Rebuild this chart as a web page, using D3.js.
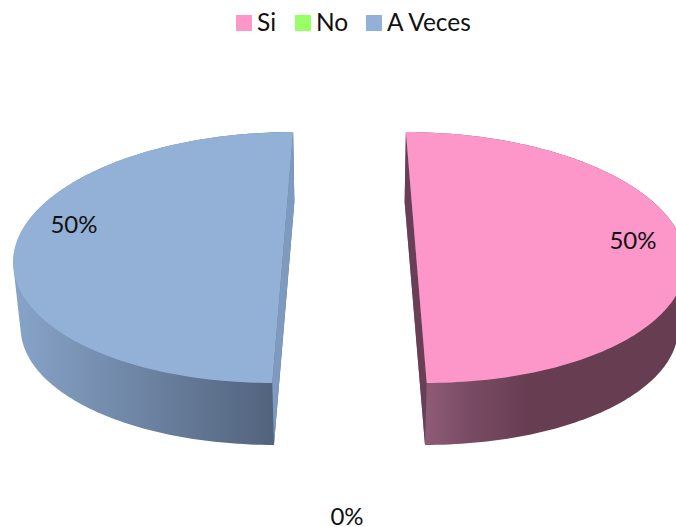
<!DOCTYPE html>
<html>
<head>
<meta charset="utf-8">
<script src="https://cdn.jsdelivr.net/npm/d3@7"></script>
<style>
  html, body { margin: 0; padding: 0; background: #fff; overflow: hidden; }
  text { font-family: Lato, "Open Sans", sans-serif; fill: #111; }
</style>
</head>
<body>
<div class="board"></div>
<script>
// data
var categories = ["Si", "No", "A Veces"];
var values = [50, 0, 50];
var labels = ["50%", "0%", "50%"];
var colors = ["#fd96c9", "#99ff66", "#93b0d6"];
var wallColors = ["#693f56", "#6d9950", "#7f9abf"];

var width = 676, height = 527;

// fake 3d: unit circle pushed through a simple perspective
var view = { cx: 349.5, cy: 237.9, rx: 266, ry: 122.4, k: 0.156, explode: 0.245, depthScale: 0.978 };

var svg = d3.select(".board").append("svg")
  .attr("width", width)
  .attr("height", height)
  .style("display", "block");

var defs = svg.append("defs");

function addGradient(id, x1, x2, stops) {
  var g = defs.append("linearGradient")
    .attr("id", id)
    .attr("gradientUnits", "userSpaceOnUse")
    .attr("x1", x1).attr("x2", x2)
    .attr("y1", 0).attr("y2", 0);
  stops.forEach(s => g.append("stop").attr("offset", s[0]).attr("stop-color", s[1]));
}
addGradient("side0", 427, 530, [[0, "#8e5b77"], [0.35, "#7c4d66"], [1, "#673d52"]]);
addGradient("side2", 20, 274, [[0, "#86a2c7"], [1, "#52637c"]]);

var pie = d3.pie().sort(null).startAngle(0).endAngle(2 * Math.PI);
var slices = pie(values);

function topPoint(angle, mid) {
  var X = Math.sin(angle) + view.explode * Math.sin(mid);
  var Z = -Math.cos(angle) - view.explode * Math.cos(mid);
  var s = 1 / (1 - view.k * Z);
  return [view.cx + view.rx * X * s, view.cy + view.ry * Z * s, Z];
}

function basePoint(angle, mid) {
  var p = topPoint(angle, mid);
  var h = 66 - 4 * p[2];
  return [view.cx + (p[0] - view.cx) * view.depthScale, p[1] + h];
}

var line = d3.line();

function arcAngles(d) {
  var steps = 160;
  return d3.range(steps + 1).map(i => d.startAngle + (d.endAngle - d.startAngle) * i / steps);
}

var drawn = slices.filter(d => d.value > 0);

// outer side band, hull of top and base so the silhouette stays clean
svg.selectAll("path.side")
  .data(drawn)
  .enter().append("path")
  .attr("class", "side")
  .attr("fill", d => "url(#side" + d.index + ")")
  .attr("d", d => {
    var mid = (d.startAngle + d.endAngle) / 2;
    var angles = arcAngles(d);
    var top = angles.map(a => topPoint(a, mid).slice(0, 2));
    var base = angles.map(a => basePoint(a, mid));
    return line(d3.polygonHull(top.concat(base))) + "Z";
  });

// cut face of each slice
svg.selectAll("path.wall")
  .data(drawn)
  .enter().append("path")
  .attr("class", "wall")
  .attr("fill", d => wallColors[d.index])
  .attr("d", d => {
    var mid = (d.startAngle + d.endAngle) / 2;
    var edge = d.index === 0 ? [d.startAngle, d.endAngle] : [d.endAngle, d.startAngle];
    return line([
      topPoint(edge[0], mid).slice(0, 2),
      topPoint(edge[1], mid).slice(0, 2),
      basePoint(edge[1], mid),
      basePoint(edge[0], mid)
    ]) + "Z";
  });

// top face
svg.selectAll("path.top")
  .data(drawn)
  .enter().append("path")
  .attr("class", "top")
  .attr("fill", d => colors[d.index])
  .attr("d", d => {
    var mid = (d.startAngle + d.endAngle) / 2;
    return line(arcAngles(d).map(a => topPoint(a, mid).slice(0, 2))) + "Z";
  });

// data labels
var labelPos = [[633, 249], [347, 525], [74, 233]];
svg.selectAll("text.label")
  .data(labels)
  .enter().append("text")
  .attr("class", "label")
  .attr("x", (d, i) => labelPos[i][0])
  .attr("y", (d, i) => labelPos[i][1])
  .attr("text-anchor", "middle")
  .attr("font-size", 24)
  .text(d => d);

// legend
var legendX = [236, 295, 366];
var legend = svg.selectAll("g.legend")
  .data(categories)
  .enter().append("g")
  .attr("class", "legend")
  .attr("transform", (d, i) => "translate(" + legendX[i] + ",15)");

legend.append("rect")
  .attr("width", 16)
  .attr("height", 16)
  .attr("fill", (d, i) => colors[i]);

legend.append("text")
  .attr("x", 21)
  .attr("y", 16)
  .attr("font-size", 24.5)
  .text(d => d);
</script>
</body>
</html>
